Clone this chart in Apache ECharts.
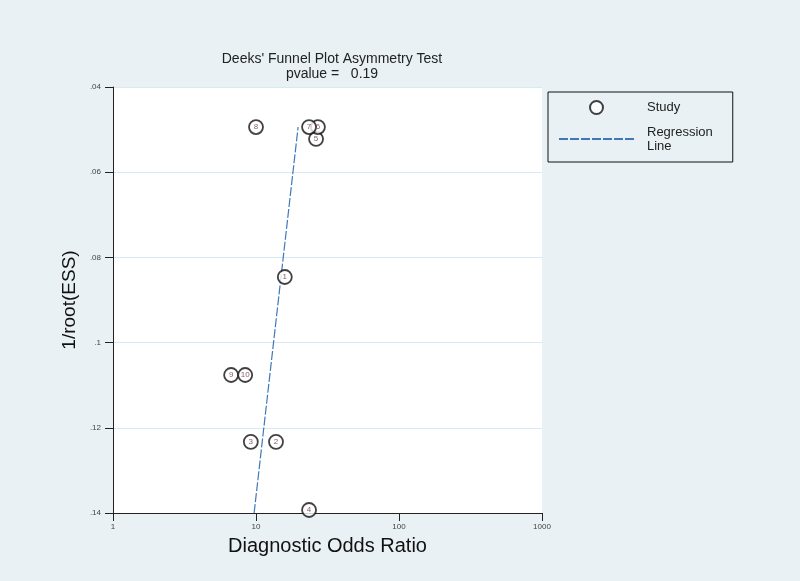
<!DOCTYPE html>
<html><head><meta charset="utf-8">
<script src="https://cdn.jsdelivr.net/npm/echarts@6/dist/echarts.min.js"></script>
<style>html,body{margin:0;padding:0;background:#e9f1f5;}#c{width:800px;height:581px;}</style>
</head><body><div id="c"></div>
<script>
const studyIds = [1, 2, 3, 4, 5, 6, 7, 8, 9, 10];
const diagnosticOddsRatio = [15.9, 13.8, 9.2, 23.5, 26.3, 27.1, 23.5, 10.0, 6.7, 8.4];
const invRootEss = [0.0846, 0.1233, 0.1233, 0.1393, 0.0522, 0.0494, 0.0494, 0.0494, 0.1076, 0.1076];
const regressionX = [9.7, 19.7];
const regressionY = [0.14, 0.0494];
const xTicks = [1, 10, 100, 1000];
const yTicks = [0.04, 0.06, 0.08, 0.1, 0.12, 0.14];

const studyData = studyIds.map((id, i) => ({value: [diagnosticOddsRatio[i], invRootEss[i]], id: id}));
const lineData = regressionX.map((x, i) => [x, regressionY[i]]);

const chart = echarts.init(document.getElementById('c'));
chart.setOption({
  backgroundColor: '#e9f1f5',
  animation: false,
  title: {
    text: "Deeks' Funnel Plot Asymmetry Test\npvalue =   0.19",
    left: 327, top: 47, textAlign: 'center',
    textStyle: {fontFamily: 'Liberation Sans', fontSize: 14, fontWeight: 'normal', color: '#222', lineHeight: 15}
  },
  legend: {
    orient: 'vertical', left: 548, top: 92,
    borderColor: '#111', borderWidth: 1, padding: [8, 20, 9, 10],
    itemWidth: 75, itemHeight: 13, itemGap: 10,
    textStyle: {fontFamily: 'Liberation Sans', fontSize: 13, color: '#222', padding: [0, 0, 0, 8], lineHeight: 14},
    formatter: n => n === 'Regression Line' ? 'Regression\nLine' : n,
    data: [
      {name: 'Study', icon: 'circle'},
      {name: 'Regression Line', itemStyle: {color: 'transparent', borderWidth: 0, opacity: 0}}
    ]
  },
  grid: {left: 113, right: 258, top: 87, bottom: 68, show: true, backgroundColor: '#ffffff', borderWidth: 0},
  xAxis: {
    type: 'log', logBase: 10, min: 1, max: 1000,
    name: 'Diagnostic Odds Ratio', nameLocation: 'middle', nameGap: 23,
    nameTextStyle: {fontFamily: 'Liberation Sans', fontSize: 20, color: '#111'},
    axisLine: {onZero: false, lineStyle: {color: '#222', width: 1}},
    axisTick: {show: true, length: 8, lineStyle: {color: '#222'}},
    minorTick: {show: false},
    splitLine: {show: false},
    axisLabel: {fontFamily: 'Liberation Sans', fontSize: 8, color: '#444', margin: 10, formatter: v => xTicks.includes(Math.round(v)) ? String(Math.round(v)) : ''}
  },
  yAxis: {
    type: 'value', min: 0.04, max: 0.14, interval: 0.02, inverse: true,
    name: '1/root(ESS)', nameLocation: 'middle', nameGap: 33, nameRotate: 90,
    nameTextStyle: {fontFamily: 'Liberation Sans', fontSize: 19, color: '#111'},
    axisLine: {show: true, lineStyle: {color: '#222', width: 1}},
    axisTick: {show: true, length: 8, lineStyle: {color: '#222'}},
    splitLine: {show: true, lineStyle: {color: '#d6eaf3', width: 1}},
    axisLabel: {fontFamily: 'Liberation Sans', fontSize: 8, color: '#444', margin: 12,
      formatter: v => { const t = yTicks.find(k => Math.abs(k - v) < 1e-9); return t === undefined ? '' : String(+t.toFixed(2)).replace(/^0/, ''); }}
  },
  series: [
    {
      name: 'Study', type: 'scatter', data: studyData, symbol: 'circle', symbolSize: 14,
      itemStyle: {color: '#ffffff', borderColor: '#111', borderWidth: 1.8},
      label: {show: true, position: 'inside', formatter: p => String(p.data.id), fontFamily: 'Liberation Sans', fontSize: 8, color: '#6a3048'},
      z: 3
    },
    {
      name: 'Regression Line', type: 'line', data: lineData, symbol: 'none', showSymbol: false,
      lineStyle: {color: '#3f78b8', width: 1.2, type: [9, 2]},
      itemStyle: {color: '#3f78b8'},
      z: 2
    }
  ]
});
</script></body></html>
